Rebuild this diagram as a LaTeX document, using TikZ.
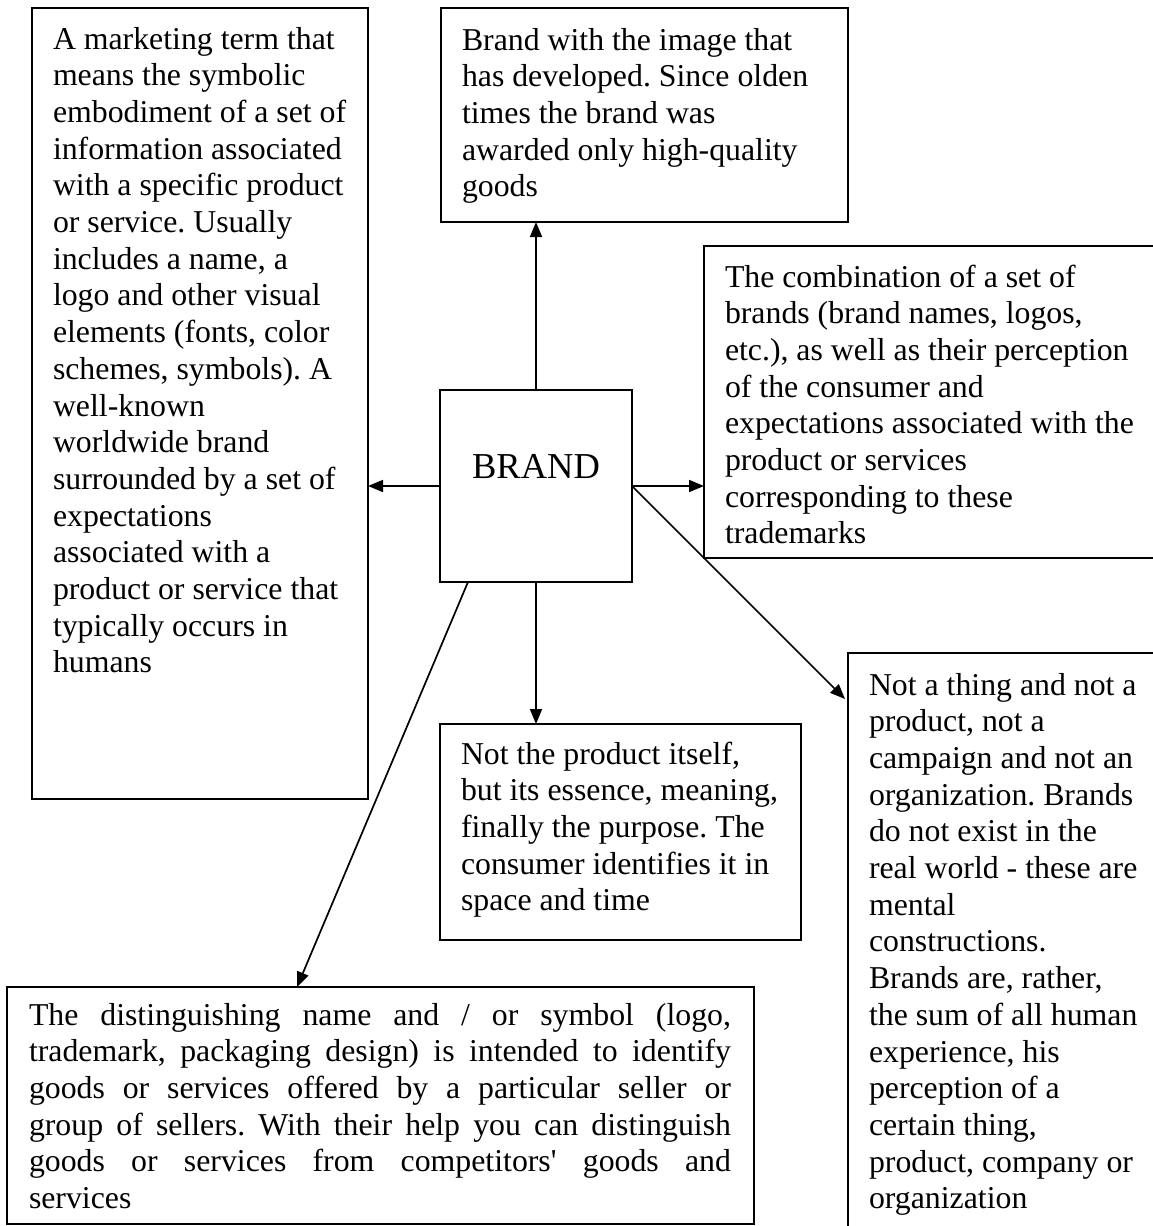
\documentclass[tikz,border=0pt]{standalone}
\usepackage{fontspec}
\setmainfont{Liberation Serif}
\usetikzlibrary{arrows.meta,calc}
\newcommand{\boxtxt}[4]{\begin{minipage}[t][#2pt][t]{#1pt}\fontsize{31.8pt}{36.7pt}\selectfont\frenchspacing\raggedright\leftskip=21pt\hyphenpenalty=10000\rule{0pt}{#3pt}#4\end{minipage}}
\begin{document}
\begin{tikzpicture}[x=1pt,y=-1pt,
  tbox/.style={draw, line width=1.7pt, rectangle, inner sep=0pt, outer sep=0pt, anchor=north west},
  obox/.style={rectangle, inner sep=0pt, outer sep=0pt, anchor=north west},
  edge/.style={line width=1.7pt},
  arr/.style={line width=1.7pt, -{Triangle[length=15pt,width=12pt]}}]
\useasboundingbox (0,0) rectangle (1153,1226);
\clip (0,0) rectangle (1153,1226);

\node[tbox] (leftbox) at (32,8) {\boxtxt{336}{791}{41}{A marketing term that\\
means the symbolic\\
embodiment of a set of\\
information associated\\
with a specific product\\
or service. Usually\\
includes a name, a\\
logo and other visual\\
elements (fonts, color\\
schemes, symbols). A\\
well-known\\
worldwide brand\\
surrounded by a set of\\
expectations\\
associated with a\\
product or service that\\
typically occurs in\\
humans}};

\node[tbox] (topbox) at (441,8) {\boxtxt{407}{214}{42}{Brand with the image that\\
has developed. Since olden\\
times the brand was\\
awarded only high-quality\\
goods}};

\node[obox] (rightbox) at (704,246) {\boxtxt{560}{312}{41}{The combination of a set of\\
brands (brand names, logos,\\
etc.), as well as their perception\\
of the consumer and\\
expectations associated with the\\
product or services\\
corresponding to these\\
trademarks}};
\draw[edge] (rightbox.north east) -- (rightbox.north west) -- (rightbox.south west) -- (rightbox.south east);

\node[tbox] (brand) at (440,390) {\begin{minipage}[t][192pt][t]{192pt}\centering\fontsize{36.5pt}{42pt}\selectfont\rule{0pt}{88pt}BRAND\end{minipage}};

\node[tbox] (midbox) at (440,724) {\boxtxt{361}{216}{40}{Not the product itself,\\
but its essence, meaning,\\
finally the purpose. The\\
consumer identifies it in\\
space and time}};

\node[obox] (rbbox) at (848,653) {\boxtxt{420}{650}{42}{Not a thing and not a\\
product, not a\\
campaign and not an\\
organization. Brands\\
do not exist in the\\
real world - these are\\
mental\\
constructions.\\
Brands are, rather,\\
the sum of all human\\
experience, his\\
perception of a\\
certain thing,\\
product, company or\\
organization}};
\draw[edge] (rbbox.north east) -- (rbbox.north west) -- (rbbox.south west);

\node[tbox] (botbox) at (7,987) {\begin{minipage}[t][237pt][t]{747pt}\fontsize{31.8pt}{36.7pt}\selectfont\frenchspacing\leftskip=22pt\parindent=0pt
\rule{0pt}{38pt}\makebox[702pt][s]{The distinguishing name and / or symbol (logo,}\\
\makebox[702pt][s]{trademark, packaging design) is intended to identify}\\
\makebox[702pt][s]{goods or services offered by a particular seller or}\\
\makebox[702pt][s]{group of sellers. With their help you can distinguish}\\
\makebox[702pt][s]{goods or services from competitors\textquotesingle{} goods and}\\
services\end{minipage}};

\coordinate (rbtip) at ($(rbbox.north west)+(-3,46)$);
\coordinate (bstart) at ($(brand.south west)+(28,0)$);
\coordinate (btip) at ($(botbox.north west)+(290,0)$);

\draw[arr] (brand.north) -- (brand.north |- topbox.south);
\draw[arr] (brand.west) -- (brand.west -| leftbox.east);
\draw[arr] (brand.east) -- (brand.east -| rightbox.west);
\draw[arr] (brand.south) -- (brand.south |- midbox.north);
\draw[arr] (brand.east) -- (rbtip);
\draw[arr] (bstart) -- (btip);
\end{tikzpicture}
\end{document}
